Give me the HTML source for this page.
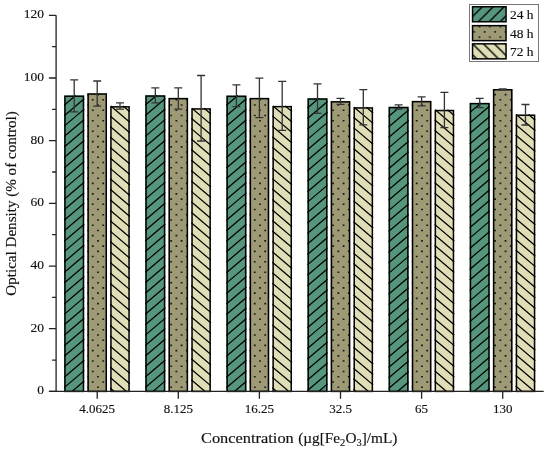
<!DOCTYPE html><html><head><meta charset="utf-8"><style>html,body{margin:0;padding:0;background:#fff;width:550px;height:450px;overflow:hidden}svg{display:block;will-change:transform}text{font-family:"Liberation Serif",serif;fill:#111;stroke:#111;stroke-width:0.15px}</style></head><body>
<svg width="550" height="450" viewBox="0 0 550 450">
<defs>
<pattern id="l1" patternUnits="userSpaceOnUse" x="9.5" width="10.9" height="10.9"><rect width="10.9" height="10.9" fill="#56967c"/><path d="M-10.9,21.8 L21.8,-10.9 M0,21.8 L32.7,-10.9 M-21.8,21.8 L10.9,-10.9" stroke="#000" stroke-width="1.4"/></pattern>
<pattern id="l3" patternUnits="userSpaceOnUse" y="7.2" width="10.9" height="10.9"><rect width="10.9" height="10.9" fill="#e0deb6"/><path d="M-10.9,-10.9 L21.8,21.8 M0,-10.9 L32.7,21.8 M-21.8,-10.9 L10.9,21.8" stroke="#000" stroke-width="1.4"/></pattern>
<pattern id="p2" patternUnits="userSpaceOnUse" x="3.05" y="-0.25" width="10.45" height="10.45"><rect x="-1" y="-1" width="12.45" height="12.45" fill="#9f9a76"/><rect x="0" y="0" width="1.8" height="1.6" fill="#1a1a1a"/><rect x="5.225" y="5.225" width="1.8" height="1.6" fill="#1a1a1a"/></pattern>
</defs>
<rect x="64.20" y="95.50" width="20.00" height="295.90" fill="#56967c"/>
<path d="M64.20,105.19L75.60,95.50M64.20,115.65L84.20,98.65M64.20,126.11L84.20,109.11M64.20,136.57L84.20,119.57M64.20,147.03L84.20,130.03M64.20,157.49L84.20,140.49M64.20,167.95L84.20,150.95M64.20,178.41L84.20,161.41M64.20,188.87L84.20,171.87M64.20,199.33L84.20,182.33M64.20,209.79L84.20,192.79M64.20,220.25L84.20,203.25M64.20,230.71L84.20,213.71M64.20,241.17L84.20,224.17M64.20,251.63L84.20,234.63M64.20,262.09L84.20,245.09M64.20,272.55L84.20,255.55M64.20,283.01L84.20,266.01M64.20,293.47L84.20,276.47M64.20,303.93L84.20,286.93M64.20,314.39L84.20,297.39M64.20,324.85L84.20,307.85M64.20,335.31L84.20,318.31M64.20,345.77L84.20,328.77M64.20,356.23L84.20,339.23M64.20,366.69L84.20,349.69M64.20,377.15L84.20,360.15M64.20,387.61L84.20,370.61M72.05,391.40L84.20,381.07" stroke="#000" stroke-width="1.25" fill="none"/>
<rect x="64.95" y="96.25" width="18.50" height="295.15" fill="none" stroke="#000" stroke-width="1.5"/>
<rect x="87.40" y="93.30" width="19.60" height="298.10" fill="#9f9a76"/>
<path d="M87.40,93.80h1.05v1.60h-1.05zM97.10,93.80h1.80v1.60h-1.80zM91.87,99.02h1.80v1.60h-1.80zM102.32,99.02h1.80v1.60h-1.80zM87.40,104.25h1.05v1.60h-1.05zM97.10,104.25h1.80v1.60h-1.80zM91.87,109.47h1.80v1.60h-1.80zM102.32,109.47h1.80v1.60h-1.80zM87.40,114.70h1.05v1.60h-1.05zM97.10,114.70h1.80v1.60h-1.80zM91.87,119.92h1.80v1.60h-1.80zM102.32,119.92h1.80v1.60h-1.80zM87.40,125.15h1.05v1.60h-1.05zM97.10,125.15h1.80v1.60h-1.80zM91.87,130.38h1.80v1.60h-1.80zM102.32,130.38h1.80v1.60h-1.80zM87.40,135.60h1.05v1.60h-1.05zM97.10,135.60h1.80v1.60h-1.80zM91.87,140.82h1.80v1.60h-1.80zM102.32,140.82h1.80v1.60h-1.80zM87.40,146.05h1.05v1.60h-1.05zM97.10,146.05h1.80v1.60h-1.80zM91.87,151.27h1.80v1.60h-1.80zM102.32,151.27h1.80v1.60h-1.80zM87.40,156.50h1.05v1.60h-1.05zM97.10,156.50h1.80v1.60h-1.80zM91.87,161.72h1.80v1.60h-1.80zM102.32,161.72h1.80v1.60h-1.80zM87.40,166.95h1.05v1.60h-1.05zM97.10,166.95h1.80v1.60h-1.80zM91.87,172.17h1.80v1.60h-1.80zM102.32,172.17h1.80v1.60h-1.80zM87.40,177.40h1.05v1.60h-1.05zM97.10,177.40h1.80v1.60h-1.80zM91.87,182.62h1.80v1.60h-1.80zM102.32,182.62h1.80v1.60h-1.80zM87.40,187.85h1.05v1.60h-1.05zM97.10,187.85h1.80v1.60h-1.80zM91.87,193.07h1.80v1.60h-1.80zM102.32,193.07h1.80v1.60h-1.80zM87.40,198.30h1.05v1.60h-1.05zM97.10,198.30h1.80v1.60h-1.80zM91.87,203.52h1.80v1.60h-1.80zM102.32,203.52h1.80v1.60h-1.80zM87.40,208.75h1.05v1.60h-1.05zM97.10,208.75h1.80v1.60h-1.80zM91.87,213.97h1.80v1.60h-1.80zM102.32,213.97h1.80v1.60h-1.80zM87.40,219.20h1.05v1.60h-1.05zM97.10,219.20h1.80v1.60h-1.80zM91.87,224.42h1.80v1.60h-1.80zM102.32,224.42h1.80v1.60h-1.80zM87.40,229.65h1.05v1.60h-1.05zM97.10,229.65h1.80v1.60h-1.80zM91.87,234.87h1.80v1.60h-1.80zM102.32,234.87h1.80v1.60h-1.80zM87.40,240.10h1.05v1.60h-1.05zM97.10,240.10h1.80v1.60h-1.80zM91.87,245.32h1.80v1.60h-1.80zM102.32,245.32h1.80v1.60h-1.80zM87.40,250.55h1.05v1.60h-1.05zM97.10,250.55h1.80v1.60h-1.80zM91.87,255.77h1.80v1.60h-1.80zM102.32,255.77h1.80v1.60h-1.80zM87.40,261.00h1.05v1.60h-1.05zM97.10,261.00h1.80v1.60h-1.80zM91.87,266.22h1.80v1.60h-1.80zM102.32,266.22h1.80v1.60h-1.80zM87.40,271.45h1.05v1.60h-1.05zM97.10,271.45h1.80v1.60h-1.80zM91.87,276.67h1.80v1.60h-1.80zM102.32,276.67h1.80v1.60h-1.80zM87.40,281.90h1.05v1.60h-1.05zM97.10,281.90h1.80v1.60h-1.80zM91.87,287.12h1.80v1.60h-1.80zM102.32,287.12h1.80v1.60h-1.80zM87.40,292.35h1.05v1.60h-1.05zM97.10,292.35h1.80v1.60h-1.80zM91.87,297.57h1.80v1.60h-1.80zM102.32,297.57h1.80v1.60h-1.80zM87.40,302.80h1.05v1.60h-1.05zM97.10,302.80h1.80v1.60h-1.80zM91.87,308.02h1.80v1.60h-1.80zM102.32,308.02h1.80v1.60h-1.80zM87.40,313.25h1.05v1.60h-1.05zM97.10,313.25h1.80v1.60h-1.80zM91.87,318.47h1.80v1.60h-1.80zM102.32,318.47h1.80v1.60h-1.80zM87.40,323.70h1.05v1.60h-1.05zM97.10,323.70h1.80v1.60h-1.80zM91.87,328.92h1.80v1.60h-1.80zM102.32,328.92h1.80v1.60h-1.80zM87.40,334.15h1.05v1.60h-1.05zM97.10,334.15h1.80v1.60h-1.80zM91.87,339.38h1.80v1.60h-1.80zM102.32,339.38h1.80v1.60h-1.80zM87.40,344.60h1.05v1.60h-1.05zM97.10,344.60h1.80v1.60h-1.80zM91.87,349.82h1.80v1.60h-1.80zM102.32,349.82h1.80v1.60h-1.80zM87.40,355.05h1.05v1.60h-1.05zM97.10,355.05h1.80v1.60h-1.80zM91.87,360.27h1.80v1.60h-1.80zM102.32,360.27h1.80v1.60h-1.80zM87.40,365.50h1.05v1.60h-1.05zM97.10,365.50h1.80v1.60h-1.80zM91.87,370.72h1.80v1.60h-1.80zM102.32,370.72h1.80v1.60h-1.80zM87.40,375.95h1.05v1.60h-1.05zM97.10,375.95h1.80v1.60h-1.80zM91.87,381.17h1.80v1.60h-1.80zM102.32,381.17h1.80v1.60h-1.80zM87.40,386.40h1.05v1.60h-1.05zM97.10,386.40h1.80v1.60h-1.80z" fill="#1a1a1a"/>
<rect x="88.15" y="94.05" width="18.10" height="297.35" fill="none" stroke="#000" stroke-width="1.5"/>
<rect x="110.20" y="106.10" width="19.60" height="285.30" fill="#e0deb6"/>
<path d="M123.09,106.10L129.80,111.80M110.79,106.10L129.80,122.26M110.20,116.06L129.80,132.72M110.20,126.52L129.80,143.18M110.20,136.98L129.80,153.64M110.20,147.44L129.80,164.10M110.20,157.90L129.80,174.56M110.20,168.36L129.80,185.02M110.20,178.82L129.80,195.48M110.20,189.28L129.80,205.94M110.20,199.74L129.80,216.40M110.20,210.20L129.80,226.86M110.20,220.66L129.80,237.32M110.20,231.12L129.80,247.78M110.20,241.58L129.80,258.24M110.20,252.04L129.80,268.70M110.20,262.50L129.80,279.16M110.20,272.96L129.80,289.62M110.20,283.42L129.80,300.08M110.20,293.88L129.80,310.54M110.20,304.34L129.80,321.00M110.20,314.80L129.80,331.46M110.20,325.26L129.80,341.92M110.20,335.72L129.80,352.38M110.20,346.18L129.80,362.84M110.20,356.64L129.80,373.30M110.20,367.10L129.80,383.76M110.20,377.56L126.48,391.40M110.20,388.02L114.18,391.40" stroke="#000" stroke-width="1.25" fill="none"/>
<rect x="110.95" y="106.85" width="18.10" height="284.55" fill="none" stroke="#000" stroke-width="1.5"/>
<rect x="145.30" y="95.30" width="20.00" height="296.10" fill="#56967c"/>
<path d="M145.30,104.99L156.70,95.30M145.30,115.45L165.30,98.45M145.30,125.91L165.30,108.91M145.30,136.37L165.30,119.37M145.30,146.83L165.30,129.83M145.30,157.29L165.30,140.29M145.30,167.75L165.30,150.75M145.30,178.21L165.30,161.21M145.30,188.67L165.30,171.67M145.30,199.13L165.30,182.13M145.30,209.59L165.30,192.59M145.30,220.05L165.30,203.05M145.30,230.51L165.30,213.51M145.30,240.97L165.30,223.97M145.30,251.43L165.30,234.43M145.30,261.89L165.30,244.89M145.30,272.35L165.30,255.35M145.30,282.81L165.30,265.81M145.30,293.27L165.30,276.27M145.30,303.73L165.30,286.73M145.30,314.19L165.30,297.19M145.30,324.65L165.30,307.65M145.30,335.11L165.30,318.11M145.30,345.57L165.30,328.57M145.30,356.03L165.30,339.03M145.30,366.49L165.30,349.49M145.30,376.95L165.30,359.95M145.30,387.41L165.30,370.41M152.91,391.40L165.30,380.87M165.22,391.40L165.30,391.33" stroke="#000" stroke-width="1.25" fill="none"/>
<rect x="146.05" y="96.05" width="18.50" height="295.35" fill="none" stroke="#000" stroke-width="1.5"/>
<rect x="168.50" y="97.90" width="19.60" height="293.50" fill="#9f9a76"/>
<path d="M175.47,99.02h1.80v1.60h-1.80zM185.92,99.02h1.80v1.60h-1.80zM170.25,104.25h1.80v1.60h-1.80zM180.70,104.25h1.80v1.60h-1.80zM175.47,109.47h1.80v1.60h-1.80zM185.92,109.47h1.80v1.60h-1.80zM170.25,114.70h1.80v1.60h-1.80zM180.70,114.70h1.80v1.60h-1.80zM175.47,119.92h1.80v1.60h-1.80zM185.92,119.92h1.80v1.60h-1.80zM170.25,125.15h1.80v1.60h-1.80zM180.70,125.15h1.80v1.60h-1.80zM175.47,130.38h1.80v1.60h-1.80zM185.92,130.38h1.80v1.60h-1.80zM170.25,135.60h1.80v1.60h-1.80zM180.70,135.60h1.80v1.60h-1.80zM175.47,140.82h1.80v1.60h-1.80zM185.92,140.82h1.80v1.60h-1.80zM170.25,146.05h1.80v1.60h-1.80zM180.70,146.05h1.80v1.60h-1.80zM175.47,151.27h1.80v1.60h-1.80zM185.92,151.27h1.80v1.60h-1.80zM170.25,156.50h1.80v1.60h-1.80zM180.70,156.50h1.80v1.60h-1.80zM175.47,161.72h1.80v1.60h-1.80zM185.92,161.72h1.80v1.60h-1.80zM170.25,166.95h1.80v1.60h-1.80zM180.70,166.95h1.80v1.60h-1.80zM175.47,172.17h1.80v1.60h-1.80zM185.92,172.17h1.80v1.60h-1.80zM170.25,177.40h1.80v1.60h-1.80zM180.70,177.40h1.80v1.60h-1.80zM175.47,182.62h1.80v1.60h-1.80zM185.92,182.62h1.80v1.60h-1.80zM170.25,187.85h1.80v1.60h-1.80zM180.70,187.85h1.80v1.60h-1.80zM175.47,193.07h1.80v1.60h-1.80zM185.92,193.07h1.80v1.60h-1.80zM170.25,198.30h1.80v1.60h-1.80zM180.70,198.30h1.80v1.60h-1.80zM175.47,203.52h1.80v1.60h-1.80zM185.92,203.52h1.80v1.60h-1.80zM170.25,208.75h1.80v1.60h-1.80zM180.70,208.75h1.80v1.60h-1.80zM175.47,213.97h1.80v1.60h-1.80zM185.92,213.97h1.80v1.60h-1.80zM170.25,219.20h1.80v1.60h-1.80zM180.70,219.20h1.80v1.60h-1.80zM175.47,224.42h1.80v1.60h-1.80zM185.92,224.42h1.80v1.60h-1.80zM170.25,229.65h1.80v1.60h-1.80zM180.70,229.65h1.80v1.60h-1.80zM175.47,234.87h1.80v1.60h-1.80zM185.92,234.87h1.80v1.60h-1.80zM170.25,240.10h1.80v1.60h-1.80zM180.70,240.10h1.80v1.60h-1.80zM175.47,245.32h1.80v1.60h-1.80zM185.92,245.32h1.80v1.60h-1.80zM170.25,250.55h1.80v1.60h-1.80zM180.70,250.55h1.80v1.60h-1.80zM175.47,255.77h1.80v1.60h-1.80zM185.92,255.77h1.80v1.60h-1.80zM170.25,261.00h1.80v1.60h-1.80zM180.70,261.00h1.80v1.60h-1.80zM175.47,266.22h1.80v1.60h-1.80zM185.92,266.22h1.80v1.60h-1.80zM170.25,271.45h1.80v1.60h-1.80zM180.70,271.45h1.80v1.60h-1.80zM175.47,276.67h1.80v1.60h-1.80zM185.92,276.67h1.80v1.60h-1.80zM170.25,281.90h1.80v1.60h-1.80zM180.70,281.90h1.80v1.60h-1.80zM175.47,287.12h1.80v1.60h-1.80zM185.92,287.12h1.80v1.60h-1.80zM170.25,292.35h1.80v1.60h-1.80zM180.70,292.35h1.80v1.60h-1.80zM175.47,297.57h1.80v1.60h-1.80zM185.92,297.57h1.80v1.60h-1.80zM170.25,302.80h1.80v1.60h-1.80zM180.70,302.80h1.80v1.60h-1.80zM175.47,308.02h1.80v1.60h-1.80zM185.92,308.02h1.80v1.60h-1.80zM170.25,313.25h1.80v1.60h-1.80zM180.70,313.25h1.80v1.60h-1.80zM175.47,318.47h1.80v1.60h-1.80zM185.92,318.47h1.80v1.60h-1.80zM170.25,323.70h1.80v1.60h-1.80zM180.70,323.70h1.80v1.60h-1.80zM175.47,328.92h1.80v1.60h-1.80zM185.92,328.92h1.80v1.60h-1.80zM170.25,334.15h1.80v1.60h-1.80zM180.70,334.15h1.80v1.60h-1.80zM175.47,339.38h1.80v1.60h-1.80zM185.92,339.38h1.80v1.60h-1.80zM170.25,344.60h1.80v1.60h-1.80zM180.70,344.60h1.80v1.60h-1.80zM175.47,349.82h1.80v1.60h-1.80zM185.92,349.82h1.80v1.60h-1.80zM170.25,355.05h1.80v1.60h-1.80zM180.70,355.05h1.80v1.60h-1.80zM175.47,360.27h1.80v1.60h-1.80zM185.92,360.27h1.80v1.60h-1.80zM170.25,365.50h1.80v1.60h-1.80zM180.70,365.50h1.80v1.60h-1.80zM175.47,370.72h1.80v1.60h-1.80zM185.92,370.72h1.80v1.60h-1.80zM170.25,375.95h1.80v1.60h-1.80zM180.70,375.95h1.80v1.60h-1.80zM175.47,381.17h1.80v1.60h-1.80zM185.92,381.17h1.80v1.60h-1.80zM170.25,386.40h1.80v1.60h-1.80zM180.70,386.40h1.80v1.60h-1.80z" fill="#1a1a1a"/>
<rect x="169.25" y="98.65" width="18.10" height="292.75" fill="none" stroke="#000" stroke-width="1.5"/>
<rect x="191.30" y="108.20" width="19.60" height="283.20" fill="#e0deb6"/>
<path d="M204.19,108.20L210.90,113.90M191.89,108.20L210.90,124.36M191.30,118.16L210.90,134.82M191.30,128.62L210.90,145.28M191.30,139.08L210.90,155.74M191.30,149.54L210.90,166.20M191.30,160.00L210.90,176.66M191.30,170.46L210.90,187.12M191.30,180.92L210.90,197.58M191.30,191.38L210.90,208.04M191.30,201.84L210.90,218.50M191.30,212.30L210.90,228.96M191.30,222.76L210.90,239.42M191.30,233.22L210.90,249.88M191.30,243.68L210.90,260.34M191.30,254.14L210.90,270.80M191.30,264.60L210.90,281.26M191.30,275.06L210.90,291.72M191.30,285.52L210.90,302.18M191.30,295.98L210.90,312.64M191.30,306.44L210.90,323.10M191.30,316.90L210.90,333.56M191.30,327.36L210.90,344.02M191.30,337.82L210.90,354.48M191.30,348.28L210.90,364.94M191.30,358.74L210.90,375.40M191.30,369.20L210.90,385.86M191.30,379.66L205.11,391.40M191.30,390.12L192.81,391.40" stroke="#000" stroke-width="1.25" fill="none"/>
<rect x="192.05" y="108.95" width="18.10" height="282.45" fill="none" stroke="#000" stroke-width="1.5"/>
<rect x="226.40" y="95.60" width="20.00" height="295.80" fill="#56967c"/>
<path d="M226.40,105.29L237.80,95.60M226.40,115.75L246.40,98.75M226.40,126.21L246.40,109.21M226.40,136.67L246.40,119.67M226.40,147.13L246.40,130.13M226.40,157.59L246.40,140.59M226.40,168.05L246.40,151.05M226.40,178.51L246.40,161.51M226.40,188.97L246.40,171.97M226.40,199.43L246.40,182.43M226.40,209.89L246.40,192.89M226.40,220.35L246.40,203.35M226.40,230.81L246.40,213.81M226.40,241.27L246.40,224.27M226.40,251.73L246.40,234.73M226.40,262.19L246.40,245.19M226.40,272.65L246.40,255.65M226.40,283.11L246.40,266.11M226.40,293.57L246.40,276.57M226.40,304.03L246.40,287.03M226.40,314.49L246.40,297.49M226.40,324.95L246.40,307.95M226.40,335.41L246.40,318.41M226.40,345.87L246.40,328.87M226.40,356.33L246.40,339.33M226.40,366.79L246.40,349.79M226.40,377.25L246.40,360.25M226.40,387.71L246.40,370.71M234.36,391.40L246.40,381.17" stroke="#000" stroke-width="1.25" fill="none"/>
<rect x="227.15" y="96.35" width="18.50" height="295.05" fill="none" stroke="#000" stroke-width="1.5"/>
<rect x="249.60" y="97.90" width="19.60" height="293.50" fill="#9f9a76"/>
<path d="M249.60,99.02h0.83v1.60h-0.83zM259.07,99.02h1.80v1.60h-1.80zM253.85,104.25h1.80v1.60h-1.80zM264.30,104.25h1.80v1.60h-1.80zM249.60,109.47h0.83v1.60h-0.83zM259.07,109.47h1.80v1.60h-1.80zM253.85,114.70h1.80v1.60h-1.80zM264.30,114.70h1.80v1.60h-1.80zM249.60,119.92h0.83v1.60h-0.83zM259.07,119.92h1.80v1.60h-1.80zM253.85,125.15h1.80v1.60h-1.80zM264.30,125.15h1.80v1.60h-1.80zM249.60,130.38h0.83v1.60h-0.83zM259.07,130.38h1.80v1.60h-1.80zM253.85,135.60h1.80v1.60h-1.80zM264.30,135.60h1.80v1.60h-1.80zM249.60,140.82h0.83v1.60h-0.83zM259.07,140.82h1.80v1.60h-1.80zM253.85,146.05h1.80v1.60h-1.80zM264.30,146.05h1.80v1.60h-1.80zM249.60,151.27h0.83v1.60h-0.83zM259.07,151.27h1.80v1.60h-1.80zM253.85,156.50h1.80v1.60h-1.80zM264.30,156.50h1.80v1.60h-1.80zM249.60,161.72h0.83v1.60h-0.83zM259.07,161.72h1.80v1.60h-1.80zM253.85,166.95h1.80v1.60h-1.80zM264.30,166.95h1.80v1.60h-1.80zM249.60,172.17h0.83v1.60h-0.83zM259.07,172.17h1.80v1.60h-1.80zM253.85,177.40h1.80v1.60h-1.80zM264.30,177.40h1.80v1.60h-1.80zM249.60,182.62h0.83v1.60h-0.83zM259.07,182.62h1.80v1.60h-1.80zM253.85,187.85h1.80v1.60h-1.80zM264.30,187.85h1.80v1.60h-1.80zM249.60,193.07h0.83v1.60h-0.83zM259.07,193.07h1.80v1.60h-1.80zM253.85,198.30h1.80v1.60h-1.80zM264.30,198.30h1.80v1.60h-1.80zM249.60,203.52h0.83v1.60h-0.83zM259.07,203.52h1.80v1.60h-1.80zM253.85,208.75h1.80v1.60h-1.80zM264.30,208.75h1.80v1.60h-1.80zM249.60,213.97h0.83v1.60h-0.83zM259.07,213.97h1.80v1.60h-1.80zM253.85,219.20h1.80v1.60h-1.80zM264.30,219.20h1.80v1.60h-1.80zM249.60,224.42h0.83v1.60h-0.83zM259.07,224.42h1.80v1.60h-1.80zM253.85,229.65h1.80v1.60h-1.80zM264.30,229.65h1.80v1.60h-1.80zM249.60,234.87h0.83v1.60h-0.83zM259.07,234.87h1.80v1.60h-1.80zM253.85,240.10h1.80v1.60h-1.80zM264.30,240.10h1.80v1.60h-1.80zM249.60,245.32h0.83v1.60h-0.83zM259.07,245.32h1.80v1.60h-1.80zM253.85,250.55h1.80v1.60h-1.80zM264.30,250.55h1.80v1.60h-1.80zM249.60,255.77h0.83v1.60h-0.83zM259.07,255.77h1.80v1.60h-1.80zM253.85,261.00h1.80v1.60h-1.80zM264.30,261.00h1.80v1.60h-1.80zM249.60,266.22h0.83v1.60h-0.83zM259.07,266.22h1.80v1.60h-1.80zM253.85,271.45h1.80v1.60h-1.80zM264.30,271.45h1.80v1.60h-1.80zM249.60,276.67h0.83v1.60h-0.83zM259.07,276.67h1.80v1.60h-1.80zM253.85,281.90h1.80v1.60h-1.80zM264.30,281.90h1.80v1.60h-1.80zM249.60,287.12h0.83v1.60h-0.83zM259.07,287.12h1.80v1.60h-1.80zM253.85,292.35h1.80v1.60h-1.80zM264.30,292.35h1.80v1.60h-1.80zM249.60,297.57h0.83v1.60h-0.83zM259.07,297.57h1.80v1.60h-1.80zM253.85,302.80h1.80v1.60h-1.80zM264.30,302.80h1.80v1.60h-1.80zM249.60,308.02h0.83v1.60h-0.83zM259.07,308.02h1.80v1.60h-1.80zM253.85,313.25h1.80v1.60h-1.80zM264.30,313.25h1.80v1.60h-1.80zM249.60,318.47h0.83v1.60h-0.83zM259.07,318.47h1.80v1.60h-1.80zM253.85,323.70h1.80v1.60h-1.80zM264.30,323.70h1.80v1.60h-1.80zM249.60,328.92h0.83v1.60h-0.83zM259.07,328.92h1.80v1.60h-1.80zM253.85,334.15h1.80v1.60h-1.80zM264.30,334.15h1.80v1.60h-1.80zM249.60,339.38h0.83v1.60h-0.83zM259.07,339.38h1.80v1.60h-1.80zM253.85,344.60h1.80v1.60h-1.80zM264.30,344.60h1.80v1.60h-1.80zM249.60,349.82h0.83v1.60h-0.83zM259.07,349.82h1.80v1.60h-1.80zM253.85,355.05h1.80v1.60h-1.80zM264.30,355.05h1.80v1.60h-1.80zM249.60,360.27h0.83v1.60h-0.83zM259.07,360.27h1.80v1.60h-1.80zM253.85,365.50h1.80v1.60h-1.80zM264.30,365.50h1.80v1.60h-1.80zM249.60,370.72h0.83v1.60h-0.83zM259.07,370.72h1.80v1.60h-1.80zM253.85,375.95h1.80v1.60h-1.80zM264.30,375.95h1.80v1.60h-1.80zM249.60,381.17h0.83v1.60h-0.83zM259.07,381.17h1.80v1.60h-1.80zM253.85,386.40h1.80v1.60h-1.80zM264.30,386.40h1.80v1.60h-1.80z" fill="#1a1a1a"/>
<rect x="250.35" y="98.65" width="18.10" height="292.75" fill="none" stroke="#000" stroke-width="1.5"/>
<rect x="272.40" y="105.90" width="19.60" height="285.50" fill="#e0deb6"/>
<path d="M285.29,105.90L292.00,111.60M272.99,105.90L292.00,122.06M272.40,115.86L292.00,132.52M272.40,126.32L292.00,142.98M272.40,136.78L292.00,153.44M272.40,147.24L292.00,163.90M272.40,157.70L292.00,174.36M272.40,168.16L292.00,184.82M272.40,178.62L292.00,195.28M272.40,189.08L292.00,205.74M272.40,199.54L292.00,216.20M272.40,210.00L292.00,226.66M272.40,220.46L292.00,237.12M272.40,230.92L292.00,247.58M272.40,241.38L292.00,258.04M272.40,251.84L292.00,268.50M272.40,262.30L292.00,278.96M272.40,272.76L292.00,289.42M272.40,283.22L292.00,299.88M272.40,293.68L292.00,310.34M272.40,304.14L292.00,320.80M272.40,314.60L292.00,331.26M272.40,325.06L292.00,341.72M272.40,335.52L292.00,352.18M272.40,345.98L292.00,362.64M272.40,356.44L292.00,373.10M272.40,366.90L292.00,383.56M272.40,377.36L288.92,391.40M272.40,387.82L276.61,391.40" stroke="#000" stroke-width="1.25" fill="none"/>
<rect x="273.15" y="106.65" width="18.10" height="284.75" fill="none" stroke="#000" stroke-width="1.5"/>
<rect x="307.50" y="98.30" width="20.00" height="293.10" fill="#56967c"/>
<path d="M307.50,107.99L318.90,98.30M307.50,118.45L327.50,101.45M307.50,128.91L327.50,111.91M307.50,139.37L327.50,122.37M307.50,149.83L327.50,132.83M307.50,160.29L327.50,143.29M307.50,170.75L327.50,153.75M307.50,181.21L327.50,164.21M307.50,191.67L327.50,174.67M307.50,202.13L327.50,185.13M307.50,212.59L327.50,195.59M307.50,223.05L327.50,206.05M307.50,233.51L327.50,216.51M307.50,243.97L327.50,226.97M307.50,254.43L327.50,237.43M307.50,264.89L327.50,247.89M307.50,275.35L327.50,258.35M307.50,285.81L327.50,268.81M307.50,296.27L327.50,279.27M307.50,306.73L327.50,289.73M307.50,317.19L327.50,300.19M307.50,327.65L327.50,310.65M307.50,338.11L327.50,321.11M307.50,348.57L327.50,331.57M307.50,359.03L327.50,342.03M307.50,369.49L327.50,352.49M307.50,379.95L327.50,362.95M307.50,390.41L327.50,373.41M318.64,391.40L327.50,383.87" stroke="#000" stroke-width="1.25" fill="none"/>
<rect x="308.25" y="99.05" width="18.50" height="292.35" fill="none" stroke="#000" stroke-width="1.5"/>
<rect x="330.70" y="101.10" width="19.60" height="290.30" fill="#9f9a76"/>
<path d="M337.45,104.25h1.80v1.60h-1.80zM347.90,104.25h1.80v1.60h-1.80zM332.23,109.47h1.80v1.60h-1.80zM342.68,109.47h1.80v1.60h-1.80zM337.45,114.70h1.80v1.60h-1.80zM347.90,114.70h1.80v1.60h-1.80zM332.23,119.92h1.80v1.60h-1.80zM342.68,119.92h1.80v1.60h-1.80zM337.45,125.15h1.80v1.60h-1.80zM347.90,125.15h1.80v1.60h-1.80zM332.23,130.38h1.80v1.60h-1.80zM342.68,130.38h1.80v1.60h-1.80zM337.45,135.60h1.80v1.60h-1.80zM347.90,135.60h1.80v1.60h-1.80zM332.23,140.82h1.80v1.60h-1.80zM342.68,140.82h1.80v1.60h-1.80zM337.45,146.05h1.80v1.60h-1.80zM347.90,146.05h1.80v1.60h-1.80zM332.23,151.27h1.80v1.60h-1.80zM342.68,151.27h1.80v1.60h-1.80zM337.45,156.50h1.80v1.60h-1.80zM347.90,156.50h1.80v1.60h-1.80zM332.23,161.72h1.80v1.60h-1.80zM342.68,161.72h1.80v1.60h-1.80zM337.45,166.95h1.80v1.60h-1.80zM347.90,166.95h1.80v1.60h-1.80zM332.23,172.17h1.80v1.60h-1.80zM342.68,172.17h1.80v1.60h-1.80zM337.45,177.40h1.80v1.60h-1.80zM347.90,177.40h1.80v1.60h-1.80zM332.23,182.62h1.80v1.60h-1.80zM342.68,182.62h1.80v1.60h-1.80zM337.45,187.85h1.80v1.60h-1.80zM347.90,187.85h1.80v1.60h-1.80zM332.23,193.07h1.80v1.60h-1.80zM342.68,193.07h1.80v1.60h-1.80zM337.45,198.30h1.80v1.60h-1.80zM347.90,198.30h1.80v1.60h-1.80zM332.23,203.52h1.80v1.60h-1.80zM342.68,203.52h1.80v1.60h-1.80zM337.45,208.75h1.80v1.60h-1.80zM347.90,208.75h1.80v1.60h-1.80zM332.23,213.97h1.80v1.60h-1.80zM342.68,213.97h1.80v1.60h-1.80zM337.45,219.20h1.80v1.60h-1.80zM347.90,219.20h1.80v1.60h-1.80zM332.23,224.42h1.80v1.60h-1.80zM342.68,224.42h1.80v1.60h-1.80zM337.45,229.65h1.80v1.60h-1.80zM347.90,229.65h1.80v1.60h-1.80zM332.23,234.87h1.80v1.60h-1.80zM342.68,234.87h1.80v1.60h-1.80zM337.45,240.10h1.80v1.60h-1.80zM347.90,240.10h1.80v1.60h-1.80zM332.23,245.32h1.80v1.60h-1.80zM342.68,245.32h1.80v1.60h-1.80zM337.45,250.55h1.80v1.60h-1.80zM347.90,250.55h1.80v1.60h-1.80zM332.23,255.77h1.80v1.60h-1.80zM342.68,255.77h1.80v1.60h-1.80zM337.45,261.00h1.80v1.60h-1.80zM347.90,261.00h1.80v1.60h-1.80zM332.23,266.22h1.80v1.60h-1.80zM342.68,266.22h1.80v1.60h-1.80zM337.45,271.45h1.80v1.60h-1.80zM347.90,271.45h1.80v1.60h-1.80zM332.23,276.67h1.80v1.60h-1.80zM342.68,276.67h1.80v1.60h-1.80zM337.45,281.90h1.80v1.60h-1.80zM347.90,281.90h1.80v1.60h-1.80zM332.23,287.12h1.80v1.60h-1.80zM342.68,287.12h1.80v1.60h-1.80zM337.45,292.35h1.80v1.60h-1.80zM347.90,292.35h1.80v1.60h-1.80zM332.23,297.57h1.80v1.60h-1.80zM342.68,297.57h1.80v1.60h-1.80zM337.45,302.80h1.80v1.60h-1.80zM347.90,302.80h1.80v1.60h-1.80zM332.23,308.02h1.80v1.60h-1.80zM342.68,308.02h1.80v1.60h-1.80zM337.45,313.25h1.80v1.60h-1.80zM347.90,313.25h1.80v1.60h-1.80zM332.23,318.47h1.80v1.60h-1.80zM342.68,318.47h1.80v1.60h-1.80zM337.45,323.70h1.80v1.60h-1.80zM347.90,323.70h1.80v1.60h-1.80zM332.23,328.92h1.80v1.60h-1.80zM342.68,328.92h1.80v1.60h-1.80zM337.45,334.15h1.80v1.60h-1.80zM347.90,334.15h1.80v1.60h-1.80zM332.23,339.38h1.80v1.60h-1.80zM342.68,339.38h1.80v1.60h-1.80zM337.45,344.60h1.80v1.60h-1.80zM347.90,344.60h1.80v1.60h-1.80zM332.23,349.82h1.80v1.60h-1.80zM342.68,349.82h1.80v1.60h-1.80zM337.45,355.05h1.80v1.60h-1.80zM347.90,355.05h1.80v1.60h-1.80zM332.23,360.27h1.80v1.60h-1.80zM342.68,360.27h1.80v1.60h-1.80zM337.45,365.50h1.80v1.60h-1.80zM347.90,365.50h1.80v1.60h-1.80zM332.23,370.72h1.80v1.60h-1.80zM342.68,370.72h1.80v1.60h-1.80zM337.45,375.95h1.80v1.60h-1.80zM347.90,375.95h1.80v1.60h-1.80zM332.23,381.17h1.80v1.60h-1.80zM342.68,381.17h1.80v1.60h-1.80zM337.45,386.40h1.80v1.60h-1.80zM347.90,386.40h1.80v1.60h-1.80z" fill="#1a1a1a"/>
<rect x="331.45" y="101.85" width="18.10" height="289.55" fill="none" stroke="#000" stroke-width="1.5"/>
<rect x="353.50" y="107.20" width="19.60" height="284.20" fill="#e0deb6"/>
<path d="M366.39,107.20L373.10,112.90M354.09,107.20L373.10,123.36M353.50,117.16L373.10,133.82M353.50,127.62L373.10,144.28M353.50,138.08L373.10,154.74M353.50,148.54L373.10,165.20M353.50,159.00L373.10,175.66M353.50,169.46L373.10,186.12M353.50,179.92L373.10,196.58M353.50,190.38L373.10,207.04M353.50,200.84L373.10,217.50M353.50,211.30L373.10,227.96M353.50,221.76L373.10,238.42M353.50,232.22L373.10,248.88M353.50,242.68L373.10,259.34M353.50,253.14L373.10,269.80M353.50,263.60L373.10,280.26M353.50,274.06L373.10,290.72M353.50,284.52L373.10,301.18M353.50,294.98L373.10,311.64M353.50,305.44L373.10,322.10M353.50,315.90L373.10,332.56M353.50,326.36L373.10,343.02M353.50,336.82L373.10,353.48M353.50,347.28L373.10,363.94M353.50,357.74L373.10,374.40M353.50,368.20L373.10,384.86M353.50,378.66L368.49,391.40M353.50,389.12L356.18,391.40" stroke="#000" stroke-width="1.25" fill="none"/>
<rect x="354.25" y="107.95" width="18.10" height="283.45" fill="none" stroke="#000" stroke-width="1.5"/>
<rect x="388.60" y="106.80" width="20.00" height="284.60" fill="#56967c"/>
<path d="M388.60,116.49L400.00,106.80M388.60,126.95L408.60,109.95M388.60,137.41L408.60,120.41M388.60,147.87L408.60,130.87M388.60,158.33L408.60,141.33M388.60,168.79L408.60,151.79M388.60,179.25L408.60,162.25M388.60,189.71L408.60,172.71M388.60,200.17L408.60,183.17M388.60,210.63L408.60,193.63M388.60,221.09L408.60,204.09M388.60,231.55L408.60,214.55M388.60,242.01L408.60,225.01M388.60,252.47L408.60,235.47M388.60,262.93L408.60,245.93M388.60,273.39L408.60,256.39M388.60,283.85L408.60,266.85M388.60,294.31L408.60,277.31M388.60,304.77L408.60,287.77M388.60,315.23L408.60,298.23M388.60,325.69L408.60,308.69M388.60,336.15L408.60,319.15M388.60,346.61L408.60,329.61M388.60,357.07L408.60,340.07M388.60,367.53L408.60,350.53M388.60,377.99L408.60,360.99M388.60,388.45L408.60,371.45M397.44,391.40L408.60,381.91" stroke="#000" stroke-width="1.25" fill="none"/>
<rect x="389.35" y="107.55" width="18.50" height="283.85" fill="none" stroke="#000" stroke-width="1.5"/>
<rect x="411.80" y="100.90" width="19.60" height="290.50" fill="#9f9a76"/>
<path d="M411.80,104.25h0.60v1.60h-0.60zM421.05,104.25h1.80v1.60h-1.80zM415.82,109.47h1.80v1.60h-1.80zM426.28,109.47h1.80v1.60h-1.80zM411.80,114.70h0.60v1.60h-0.60zM421.05,114.70h1.80v1.60h-1.80zM415.82,119.92h1.80v1.60h-1.80zM426.28,119.92h1.80v1.60h-1.80zM411.80,125.15h0.60v1.60h-0.60zM421.05,125.15h1.80v1.60h-1.80zM415.82,130.38h1.80v1.60h-1.80zM426.28,130.38h1.80v1.60h-1.80zM411.80,135.60h0.60v1.60h-0.60zM421.05,135.60h1.80v1.60h-1.80zM415.82,140.82h1.80v1.60h-1.80zM426.28,140.82h1.80v1.60h-1.80zM411.80,146.05h0.60v1.60h-0.60zM421.05,146.05h1.80v1.60h-1.80zM415.82,151.27h1.80v1.60h-1.80zM426.28,151.27h1.80v1.60h-1.80zM411.80,156.50h0.60v1.60h-0.60zM421.05,156.50h1.80v1.60h-1.80zM415.82,161.72h1.80v1.60h-1.80zM426.28,161.72h1.80v1.60h-1.80zM411.80,166.95h0.60v1.60h-0.60zM421.05,166.95h1.80v1.60h-1.80zM415.82,172.17h1.80v1.60h-1.80zM426.28,172.17h1.80v1.60h-1.80zM411.80,177.40h0.60v1.60h-0.60zM421.05,177.40h1.80v1.60h-1.80zM415.82,182.62h1.80v1.60h-1.80zM426.28,182.62h1.80v1.60h-1.80zM411.80,187.85h0.60v1.60h-0.60zM421.05,187.85h1.80v1.60h-1.80zM415.82,193.07h1.80v1.60h-1.80zM426.28,193.07h1.80v1.60h-1.80zM411.80,198.30h0.60v1.60h-0.60zM421.05,198.30h1.80v1.60h-1.80zM415.82,203.52h1.80v1.60h-1.80zM426.28,203.52h1.80v1.60h-1.80zM411.80,208.75h0.60v1.60h-0.60zM421.05,208.75h1.80v1.60h-1.80zM415.82,213.97h1.80v1.60h-1.80zM426.28,213.97h1.80v1.60h-1.80zM411.80,219.20h0.60v1.60h-0.60zM421.05,219.20h1.80v1.60h-1.80zM415.82,224.42h1.80v1.60h-1.80zM426.28,224.42h1.80v1.60h-1.80zM411.80,229.65h0.60v1.60h-0.60zM421.05,229.65h1.80v1.60h-1.80zM415.82,234.87h1.80v1.60h-1.80zM426.28,234.87h1.80v1.60h-1.80zM411.80,240.10h0.60v1.60h-0.60zM421.05,240.10h1.80v1.60h-1.80zM415.82,245.32h1.80v1.60h-1.80zM426.28,245.32h1.80v1.60h-1.80zM411.80,250.55h0.60v1.60h-0.60zM421.05,250.55h1.80v1.60h-1.80zM415.82,255.77h1.80v1.60h-1.80zM426.28,255.77h1.80v1.60h-1.80zM411.80,261.00h0.60v1.60h-0.60zM421.05,261.00h1.80v1.60h-1.80zM415.82,266.22h1.80v1.60h-1.80zM426.28,266.22h1.80v1.60h-1.80zM411.80,271.45h0.60v1.60h-0.60zM421.05,271.45h1.80v1.60h-1.80zM415.82,276.67h1.80v1.60h-1.80zM426.28,276.67h1.80v1.60h-1.80zM411.80,281.90h0.60v1.60h-0.60zM421.05,281.90h1.80v1.60h-1.80zM415.82,287.12h1.80v1.60h-1.80zM426.28,287.12h1.80v1.60h-1.80zM411.80,292.35h0.60v1.60h-0.60zM421.05,292.35h1.80v1.60h-1.80zM415.82,297.57h1.80v1.60h-1.80zM426.28,297.57h1.80v1.60h-1.80zM411.80,302.80h0.60v1.60h-0.60zM421.05,302.80h1.80v1.60h-1.80zM415.82,308.02h1.80v1.60h-1.80zM426.28,308.02h1.80v1.60h-1.80zM411.80,313.25h0.60v1.60h-0.60zM421.05,313.25h1.80v1.60h-1.80zM415.82,318.47h1.80v1.60h-1.80zM426.28,318.47h1.80v1.60h-1.80zM411.80,323.70h0.60v1.60h-0.60zM421.05,323.70h1.80v1.60h-1.80zM415.82,328.92h1.80v1.60h-1.80zM426.28,328.92h1.80v1.60h-1.80zM411.80,334.15h0.60v1.60h-0.60zM421.05,334.15h1.80v1.60h-1.80zM415.82,339.38h1.80v1.60h-1.80zM426.28,339.38h1.80v1.60h-1.80zM411.80,344.60h0.60v1.60h-0.60zM421.05,344.60h1.80v1.60h-1.80zM415.82,349.82h1.80v1.60h-1.80zM426.28,349.82h1.80v1.60h-1.80zM411.80,355.05h0.60v1.60h-0.60zM421.05,355.05h1.80v1.60h-1.80zM415.82,360.27h1.80v1.60h-1.80zM426.28,360.27h1.80v1.60h-1.80zM411.80,365.50h0.60v1.60h-0.60zM421.05,365.50h1.80v1.60h-1.80zM415.82,370.72h1.80v1.60h-1.80zM426.28,370.72h1.80v1.60h-1.80zM411.80,375.95h0.60v1.60h-0.60zM421.05,375.95h1.80v1.60h-1.80zM415.82,381.17h1.80v1.60h-1.80zM426.28,381.17h1.80v1.60h-1.80zM411.80,386.40h0.60v1.60h-0.60zM421.05,386.40h1.80v1.60h-1.80z" fill="#1a1a1a"/>
<rect x="412.55" y="101.65" width="18.10" height="289.75" fill="none" stroke="#000" stroke-width="1.5"/>
<rect x="434.60" y="109.80" width="19.60" height="281.60" fill="#e0deb6"/>
<path d="M447.49,109.80L454.20,115.50M435.19,109.80L454.20,125.96M434.60,119.76L454.20,136.42M434.60,130.22L454.20,146.88M434.60,140.68L454.20,157.34M434.60,151.14L454.20,167.80M434.60,161.60L454.20,178.26M434.60,172.06L454.20,188.72M434.60,182.52L454.20,199.18M434.60,192.98L454.20,209.64M434.60,203.44L454.20,220.10M434.60,213.90L454.20,230.56M434.60,224.36L454.20,241.02M434.60,234.82L454.20,251.48M434.60,245.28L454.20,261.94M434.60,255.74L454.20,272.40M434.60,266.20L454.20,282.86M434.60,276.66L454.20,293.32M434.60,287.12L454.20,303.78M434.60,297.58L454.20,314.24M434.60,308.04L454.20,324.70M434.60,318.50L454.20,335.16M434.60,328.96L454.20,345.62M434.60,339.42L454.20,356.08M434.60,349.88L454.20,366.54M434.60,360.34L454.20,377.00M434.60,370.80L454.20,387.46M434.60,381.26L446.53,391.40" stroke="#000" stroke-width="1.25" fill="none"/>
<rect x="435.35" y="110.55" width="18.10" height="280.85" fill="none" stroke="#000" stroke-width="1.5"/>
<rect x="469.70" y="102.90" width="20.00" height="288.50" fill="#56967c"/>
<path d="M469.70,112.59L481.10,102.90M469.70,123.05L489.70,106.05M469.70,133.51L489.70,116.51M469.70,143.97L489.70,126.97M469.70,154.43L489.70,137.43M469.70,164.89L489.70,147.89M469.70,175.35L489.70,158.35M469.70,185.81L489.70,168.81M469.70,196.27L489.70,179.27M469.70,206.73L489.70,189.73M469.70,217.19L489.70,200.19M469.70,227.65L489.70,210.65M469.70,238.11L489.70,221.11M469.70,248.57L489.70,231.57M469.70,259.03L489.70,242.03M469.70,269.49L489.70,252.49M469.70,279.95L489.70,262.95M469.70,290.41L489.70,273.41M469.70,300.87L489.70,283.87M469.70,311.33L489.70,294.33M469.70,321.79L489.70,304.79M469.70,332.25L489.70,315.25M469.70,342.71L489.70,325.71M469.70,353.17L489.70,336.17M469.70,363.63L489.70,346.63M469.70,374.09L489.70,357.09M469.70,384.55L489.70,367.55M473.95,391.40L489.70,378.01M486.25,391.40L489.70,388.47" stroke="#000" stroke-width="1.25" fill="none"/>
<rect x="470.45" y="103.65" width="18.50" height="287.75" fill="none" stroke="#000" stroke-width="1.5"/>
<rect x="492.90" y="89.00" width="19.60" height="302.40" fill="#9f9a76"/>
<path d="M499.43,89.00h1.80v1.17h-1.80zM509.88,89.00h1.80v1.17h-1.80zM494.20,93.80h1.80v1.60h-1.80zM504.65,93.80h1.80v1.60h-1.80zM499.43,99.02h1.80v1.60h-1.80zM509.88,99.02h1.80v1.60h-1.80zM494.20,104.25h1.80v1.60h-1.80zM504.65,104.25h1.80v1.60h-1.80zM499.43,109.47h1.80v1.60h-1.80zM509.88,109.47h1.80v1.60h-1.80zM494.20,114.70h1.80v1.60h-1.80zM504.65,114.70h1.80v1.60h-1.80zM499.43,119.92h1.80v1.60h-1.80zM509.88,119.92h1.80v1.60h-1.80zM494.20,125.15h1.80v1.60h-1.80zM504.65,125.15h1.80v1.60h-1.80zM499.43,130.38h1.80v1.60h-1.80zM509.88,130.38h1.80v1.60h-1.80zM494.20,135.60h1.80v1.60h-1.80zM504.65,135.60h1.80v1.60h-1.80zM499.43,140.82h1.80v1.60h-1.80zM509.88,140.82h1.80v1.60h-1.80zM494.20,146.05h1.80v1.60h-1.80zM504.65,146.05h1.80v1.60h-1.80zM499.43,151.27h1.80v1.60h-1.80zM509.88,151.27h1.80v1.60h-1.80zM494.20,156.50h1.80v1.60h-1.80zM504.65,156.50h1.80v1.60h-1.80zM499.43,161.72h1.80v1.60h-1.80zM509.88,161.72h1.80v1.60h-1.80zM494.20,166.95h1.80v1.60h-1.80zM504.65,166.95h1.80v1.60h-1.80zM499.43,172.17h1.80v1.60h-1.80zM509.88,172.17h1.80v1.60h-1.80zM494.20,177.40h1.80v1.60h-1.80zM504.65,177.40h1.80v1.60h-1.80zM499.43,182.62h1.80v1.60h-1.80zM509.88,182.62h1.80v1.60h-1.80zM494.20,187.85h1.80v1.60h-1.80zM504.65,187.85h1.80v1.60h-1.80zM499.43,193.07h1.80v1.60h-1.80zM509.88,193.07h1.80v1.60h-1.80zM494.20,198.30h1.80v1.60h-1.80zM504.65,198.30h1.80v1.60h-1.80zM499.43,203.52h1.80v1.60h-1.80zM509.88,203.52h1.80v1.60h-1.80zM494.20,208.75h1.80v1.60h-1.80zM504.65,208.75h1.80v1.60h-1.80zM499.43,213.97h1.80v1.60h-1.80zM509.88,213.97h1.80v1.60h-1.80zM494.20,219.20h1.80v1.60h-1.80zM504.65,219.20h1.80v1.60h-1.80zM499.43,224.42h1.80v1.60h-1.80zM509.88,224.42h1.80v1.60h-1.80zM494.20,229.65h1.80v1.60h-1.80zM504.65,229.65h1.80v1.60h-1.80zM499.43,234.87h1.80v1.60h-1.80zM509.88,234.87h1.80v1.60h-1.80zM494.20,240.10h1.80v1.60h-1.80zM504.65,240.10h1.80v1.60h-1.80zM499.43,245.32h1.80v1.60h-1.80zM509.88,245.32h1.80v1.60h-1.80zM494.20,250.55h1.80v1.60h-1.80zM504.65,250.55h1.80v1.60h-1.80zM499.43,255.77h1.80v1.60h-1.80zM509.88,255.77h1.80v1.60h-1.80zM494.20,261.00h1.80v1.60h-1.80zM504.65,261.00h1.80v1.60h-1.80zM499.43,266.22h1.80v1.60h-1.80zM509.88,266.22h1.80v1.60h-1.80zM494.20,271.45h1.80v1.60h-1.80zM504.65,271.45h1.80v1.60h-1.80zM499.43,276.67h1.80v1.60h-1.80zM509.88,276.67h1.80v1.60h-1.80zM494.20,281.90h1.80v1.60h-1.80zM504.65,281.90h1.80v1.60h-1.80zM499.43,287.12h1.80v1.60h-1.80zM509.88,287.12h1.80v1.60h-1.80zM494.20,292.35h1.80v1.60h-1.80zM504.65,292.35h1.80v1.60h-1.80zM499.43,297.57h1.80v1.60h-1.80zM509.88,297.57h1.80v1.60h-1.80zM494.20,302.80h1.80v1.60h-1.80zM504.65,302.80h1.80v1.60h-1.80zM499.43,308.02h1.80v1.60h-1.80zM509.88,308.02h1.80v1.60h-1.80zM494.20,313.25h1.80v1.60h-1.80zM504.65,313.25h1.80v1.60h-1.80zM499.43,318.47h1.80v1.60h-1.80zM509.88,318.47h1.80v1.60h-1.80zM494.20,323.70h1.80v1.60h-1.80zM504.65,323.70h1.80v1.60h-1.80zM499.43,328.92h1.80v1.60h-1.80zM509.88,328.92h1.80v1.60h-1.80zM494.20,334.15h1.80v1.60h-1.80zM504.65,334.15h1.80v1.60h-1.80zM499.43,339.38h1.80v1.60h-1.80zM509.88,339.38h1.80v1.60h-1.80zM494.20,344.60h1.80v1.60h-1.80zM504.65,344.60h1.80v1.60h-1.80zM499.43,349.82h1.80v1.60h-1.80zM509.88,349.82h1.80v1.60h-1.80zM494.20,355.05h1.80v1.60h-1.80zM504.65,355.05h1.80v1.60h-1.80zM499.43,360.27h1.80v1.60h-1.80zM509.88,360.27h1.80v1.60h-1.80zM494.20,365.50h1.80v1.60h-1.80zM504.65,365.50h1.80v1.60h-1.80zM499.43,370.72h1.80v1.60h-1.80zM509.88,370.72h1.80v1.60h-1.80zM494.20,375.95h1.80v1.60h-1.80zM504.65,375.95h1.80v1.60h-1.80zM499.43,381.17h1.80v1.60h-1.80zM509.88,381.17h1.80v1.60h-1.80zM494.20,386.40h1.80v1.60h-1.80zM504.65,386.40h1.80v1.60h-1.80z" fill="#1a1a1a"/>
<rect x="493.65" y="89.75" width="18.10" height="301.65" fill="none" stroke="#000" stroke-width="1.5"/>
<rect x="515.70" y="114.50" width="19.60" height="276.90" fill="#e0deb6"/>
<path d="M528.59,114.50L535.30,120.20M516.29,114.50L535.30,130.66M515.70,124.46L535.30,141.12M515.70,134.92L535.30,151.58M515.70,145.38L535.30,162.04M515.70,155.84L535.30,172.50M515.70,166.30L535.30,182.96M515.70,176.76L535.30,193.42M515.70,187.22L535.30,203.88M515.70,197.68L535.30,214.34M515.70,208.14L535.30,224.80M515.70,218.60L535.30,235.26M515.70,229.06L535.30,245.72M515.70,239.52L535.30,256.18M515.70,249.98L535.30,266.64M515.70,260.44L535.30,277.10M515.70,270.90L535.30,287.56M515.70,281.36L535.30,298.02M515.70,291.82L535.30,308.48M515.70,302.28L535.30,318.94M515.70,312.74L535.30,329.40M515.70,323.20L535.30,339.86M515.70,333.66L535.30,350.32M515.70,344.12L535.30,360.78M515.70,354.58L535.30,371.24M515.70,365.04L535.30,381.70M515.70,375.50L534.41,391.40M515.70,385.96L522.10,391.40" stroke="#000" stroke-width="1.25" fill="none"/>
<rect x="516.45" y="115.25" width="18.10" height="276.15" fill="none" stroke="#000" stroke-width="1.5"/>
<path d="M74.20,79.90 V111.90 M70.20,79.90 H78.20 M70.20,111.90 H78.20" stroke="#333" stroke-width="1.3" fill="none"/>
<path d="M97.20,81.00 V106.20 M93.20,81.00 H101.20 M93.20,106.20 H101.20" stroke="#333" stroke-width="1.3" fill="none"/>
<path d="M120.00,102.90 V109.20 M116.00,102.90 H124.00 M116.00,109.20 H124.00" stroke="#333" stroke-width="1.3" fill="none"/>
<path d="M155.30,87.80 V102.80 M151.30,87.80 H159.30 M151.30,102.80 H159.30" stroke="#333" stroke-width="1.3" fill="none"/>
<path d="M178.30,87.80 V109.10 M174.30,87.80 H182.30 M174.30,109.10 H182.30" stroke="#333" stroke-width="1.3" fill="none"/>
<path d="M201.10,75.50 V141.00 M197.10,75.50 H205.10 M197.10,141.00 H205.10" stroke="#333" stroke-width="1.3" fill="none"/>
<path d="M236.40,84.80 V106.70 M232.40,84.80 H240.40 M232.40,106.70 H240.40" stroke="#333" stroke-width="1.3" fill="none"/>
<path d="M259.40,78.20 V117.70 M255.40,78.20 H263.40 M255.40,117.70 H263.40" stroke="#333" stroke-width="1.3" fill="none"/>
<path d="M282.20,81.40 V130.40 M278.20,81.40 H286.20 M278.20,130.40 H286.20" stroke="#333" stroke-width="1.3" fill="none"/>
<path d="M317.50,83.90 V113.30 M313.50,83.90 H321.50 M313.50,113.30 H321.50" stroke="#333" stroke-width="1.3" fill="none"/>
<path d="M340.50,98.30 V104.40 M336.50,98.30 H344.50 M336.50,104.40 H344.50" stroke="#333" stroke-width="1.3" fill="none"/>
<path d="M363.30,89.70 V124.80 M359.30,89.70 H367.30 M359.30,124.80 H367.30" stroke="#333" stroke-width="1.3" fill="none"/>
<path d="M398.60,104.80 V109.00 M394.60,104.80 H402.60 M394.60,109.00 H402.60" stroke="#333" stroke-width="1.3" fill="none"/>
<path d="M421.60,96.80 V105.80 M417.60,96.80 H425.60 M417.60,105.80 H425.60" stroke="#333" stroke-width="1.3" fill="none"/>
<path d="M444.40,92.40 V127.70 M440.40,92.40 H448.40 M440.40,127.70 H448.40" stroke="#333" stroke-width="1.3" fill="none"/>
<path d="M479.70,98.30 V107.60 M475.70,98.30 H483.70 M475.70,107.60 H483.70" stroke="#333" stroke-width="1.3" fill="none"/>
<path d="M502.70,88.80 V89.60 M498.70,88.80 H506.70 M498.70,89.60 H506.70" stroke="#333" stroke-width="1.3" fill="none"/>
<path d="M525.50,104.50 V125.00 M521.50,104.50 H529.50 M521.50,125.00 H529.50" stroke="#333" stroke-width="1.3" fill="none"/>
<path d="M56.1,15.3 V392.0" stroke="#222" stroke-width="1.3" fill="none"/>
<path d="M48.9,391.4 H543.7" stroke="#222" stroke-width="1.3" fill="none"/>
<path d="M48.90,391.40 H56.1 M52.10,360.06 H56.1 M48.90,328.72 H56.1 M52.10,297.38 H56.1 M48.90,266.03 H56.1 M52.10,234.69 H56.1 M48.90,203.35 H56.1 M52.10,172.01 H56.1 M48.90,140.67 H56.1 M52.10,109.32 H56.1 M48.90,77.98 H56.1 M52.10,46.64 H56.1 M48.90,15.30 H56.1" stroke="#222" stroke-width="1.3" fill="none"/>
<path d="M97.20,391.4 V398.7 M178.30,391.4 V398.7 M259.40,391.4 V398.7 M340.50,391.4 V398.7 M421.60,391.4 V398.7 M502.70,391.4 V398.7" stroke="#222" stroke-width="1.3" fill="none"/>
<text x="44.1" y="394.30" font-size="13.5" text-anchor="end">0</text>
<text x="44.1" y="331.62" font-size="13.5" text-anchor="end">20</text>
<text x="44.1" y="268.93" font-size="13.5" text-anchor="end">40</text>
<text x="44.1" y="206.25" font-size="13.5" text-anchor="end">60</text>
<text x="44.1" y="143.57" font-size="13.5" text-anchor="end">80</text>
<text x="44.1" y="80.88" font-size="13.5" text-anchor="end">100</text>
<text x="44.1" y="18.20" font-size="13.5" text-anchor="end">120</text>
<text x="97.20" y="412.6" font-size="13" text-anchor="middle">4.0625</text>
<text x="178.30" y="412.6" font-size="13" text-anchor="middle">8.125</text>
<text x="259.40" y="412.6" font-size="13" text-anchor="middle">16.25</text>
<text x="340.50" y="412.6" font-size="13" text-anchor="middle">32.5</text>
<text x="421.60" y="412.6" font-size="13" text-anchor="middle">65</text>
<text x="502.70" y="412.6" font-size="13" text-anchor="middle">130</text>
<text x="201" y="442.9" font-size="14.5" textLength="92.8" lengthAdjust="spacingAndGlyphs">Concentration</text>
<text x="298.2" y="442.9" font-size="14.5" textLength="99.2" lengthAdjust="spacingAndGlyphs">(µg[Fe<tspan font-size="10" dy="3">2</tspan><tspan dy="-3">O</tspan><tspan font-size="10" dy="3">3</tspan><tspan dy="-3">]/mL)</tspan></text>
<text transform="translate(16,295.7) rotate(-90)" x="0" y="0" font-size="14.5" textLength="184.4" lengthAdjust="spacingAndGlyphs">Optical Density (% of control)</text>
<rect x="469.5" y="4.5" width="69" height="57" fill="#fff" stroke="#777" stroke-width="1"/>
<rect x="472.55" y="6.75" width="33.50" height="15.00" fill="url(#l1)" stroke="#000" stroke-width="1.5"/>
<text x="510" y="18.90" font-size="13" textLength="23.6" lengthAdjust="spacingAndGlyphs">24 h</text>
<rect x="472.55" y="25.65" width="33.50" height="15.00" fill="url(#p2)" stroke="#000" stroke-width="1.5"/>
<text x="510" y="37.80" font-size="13" textLength="23.6" lengthAdjust="spacingAndGlyphs">48 h</text>
<rect x="472.55" y="43.85" width="33.50" height="15.00" fill="url(#l3)" stroke="#000" stroke-width="1.5"/>
<text x="510" y="56.00" font-size="13" textLength="23.6" lengthAdjust="spacingAndGlyphs">72 h</text>
</svg></body></html>
